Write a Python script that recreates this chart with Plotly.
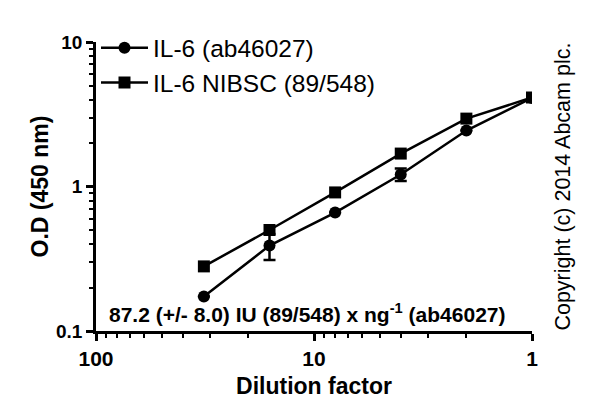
import plotly.graph_objects as go

dilution = [32, 16, 8, 4, 2, 1]
il6_ab = [0.173, 0.39, 0.66, 1.21, 2.44, 4.1]
il6_ab_err = [0.0, 0.08, 0.0, 0.12, 0.0, 0.0]
il6_nibsc = [0.28, 0.50, 0.91, 1.69, 2.95, 4.13]

x_ticks = [100, 10, 1]
x_ticklabels = ["100", "10", "1"]
y_ticks = [0.1, 1, 10]
y_ticklabels = ["0.1", "1", "10"]

minor_x = [v * m for v in [1, 10] for m in range(2, 10)]
minor_y = [v * m for v in [0.1, 1] for m in range(2, 10)]

FONT = "Liberation Sans, Arial"

fig = go.Figure()
fig.add_trace(go.Scatter(
    x=dilution, y=il6_ab, name="IL-6 (ab46027)", mode="lines+markers",
    legendgroup="a",
    line=dict(color="black", width=2.5),
    marker=dict(symbol="circle", size=12, color="black"),
    error_y=dict(type="data", array=il6_ab_err, color="black", thickness=2.5, width=6),
))
fig.add_trace(go.Scatter(
    x=dilution, y=il6_nibsc, name="IL-6 NIBSC (89/548)", mode="lines+markers",
    legendgroup="b",
    line=dict(color="black", width=2.5),
    marker=dict(symbol="square", size=12, color="black"),
))

axis_common = dict(
    type="log", showgrid=False, zeroline=False, showline=True,
    linecolor="black", linewidth=2.5, ticks="outside", tickwidth=2.5,
    ticklen=7, tickcolor="black", mirror=False,
)

fig.update_xaxes(
    **axis_common, range=[2, 0], tickmode="array", tickvals=x_ticks, ticktext=x_ticklabels,
    tickfont=dict(family=FONT, size=21, color="black", weight="bold"),
    minor=dict(tickmode="array", tickvals=minor_x, ticks="outside", ticklen=4, tickwidth=2, tickcolor="black"),
    title=dict(text="Dilution factor", font=dict(family=FONT, size=23, color="black", weight="bold"), standoff=9),
)
fig.update_yaxes(
    **axis_common, range=[-1, 1], tickmode="array", tickvals=y_ticks, ticktext=y_ticklabels,
    tickfont=dict(family=FONT, size=19, color="black", weight="bold"),
    minor=dict(tickmode="array", tickvals=minor_y, ticks="outside", ticklen=4, tickwidth=2, tickcolor="black"),
    title=dict(text="O.D (450 nm)", font=dict(family=FONT, size=23, color="black", weight="bold"), standoff=1),
)

fig.add_annotation(
    x=0.025, y=0.062, xref="paper", yref="paper", xanchor="left", yanchor="middle",
    text="87.2 (+/- 8.0) IU (89/548) x ng<sup>-1</sup> (ab46027)", showarrow=False,
    font=dict(family=FONT, size=21, color="black", weight="bold"),
)
fig.add_annotation(
    x=1.069, y=0.5, xref="paper", yref="paper", xanchor="center", yanchor="middle",
    text="Copyright (c) 2014 Abcam plc.", textangle=-90, showarrow=False,
    font=dict(family=FONT, size=21.5, color="black"),
)

fig.update_layout(
    width=600, height=420, margin=dict(l=96, r=68, t=42, b=89),
    paper_bgcolor="white", plot_bgcolor="white",
    showlegend=True,
    legend=dict(x=0.0, y=1.058, xanchor="left", yanchor="top", bgcolor="rgba(0,0,0,0)",
                font=dict(family=FONT, size=24.5, color="black"),
                itemwidth=47, tracegroupgap=0),
)

fig.write_html("out.html")
